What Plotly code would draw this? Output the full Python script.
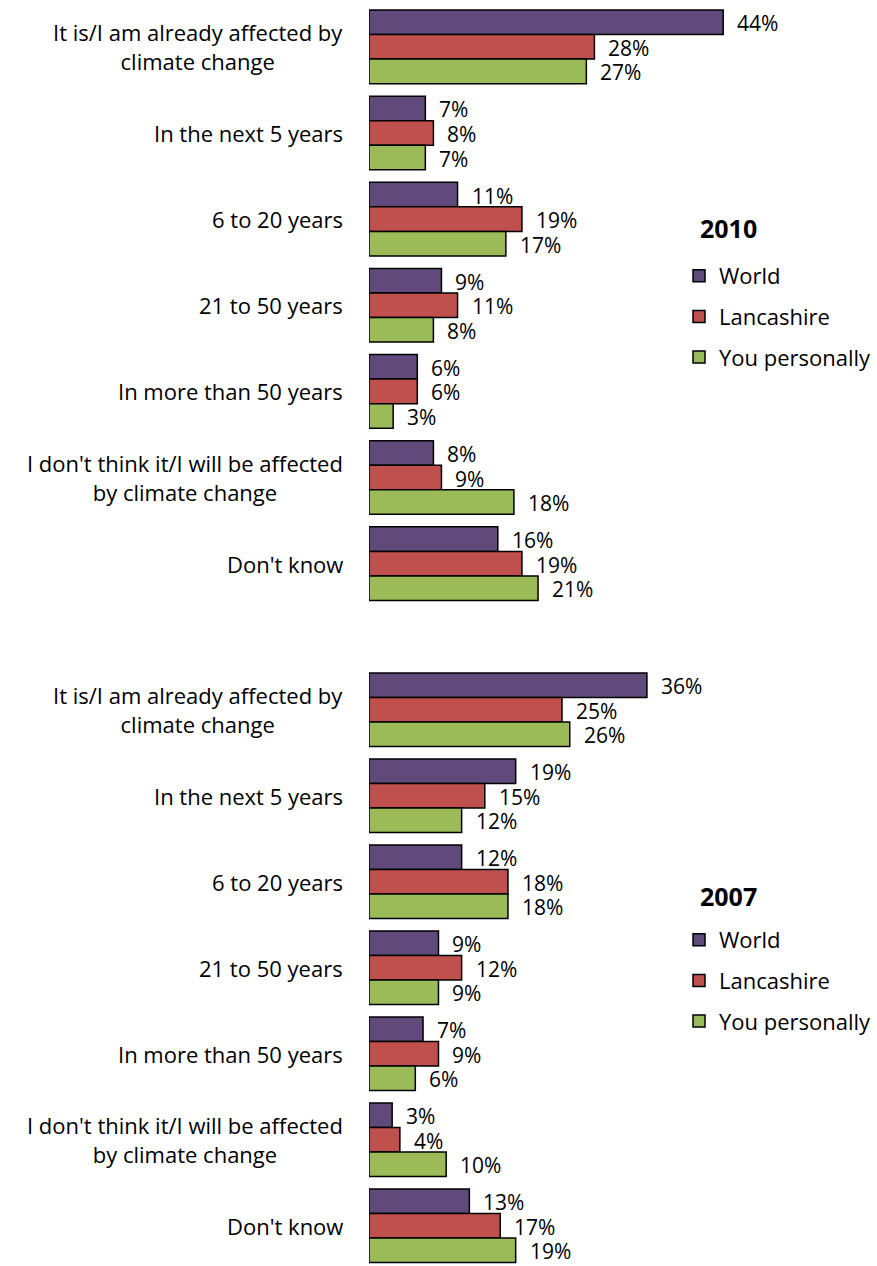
import plotly.graph_objects as go

# Answer categories (shared by both survey years)
categories = [
    "It is/I am already affected by<br>climate change",
    "In the next 5 years",
    "6 to 20 years",
    "21 to 50 years",
    "In more than 50 years",
    "I don't think it/I will be affected<br>by climate change",
    "Don't know",
]
series_names = ["World", "Lancashire", "You personally"]
series_colors = ["#604A7B", "#C0504D", "#9BBB59"]

# 2010 survey (%)
world_2010 = [44, 7, 11, 9, 6, 8, 16]
lancashire_2010 = [28, 8, 19, 11, 6, 9, 19]
personal_2010 = [27, 7, 17, 8, 3, 18, 21]

# 2007 survey (%)
world_2007 = [36, 19, 12, 9, 7, 3, 13]
lancashire_2007 = [25, 15, 18, 12, 9, 4, 17]
personal_2007 = [26, 12, 18, 9, 6, 10, 19]

FONT = "Open Sans"
FS = 22          # category labels and legend
FS_VALUE = 21    # percentage labels next to the bars
W, H = 877, 1266
BARGAP = 0.145
PLOT_LEFT = 369

panels = [
    # year, series, x axis, y axis, legend, legend top (px), title centre (px)
    ("2010", [world_2010, lancashire_2010, personal_2010], "x", "y", "legend", 255, 228),
    ("2007", [world_2007, lancashire_2007, personal_2007], "x2", "y2", "legend2", 919, 896),
]

fig = go.Figure()
annotations = []
positions = list(range(len(categories)))
bar_w = (1 - BARGAP) / 3

for year, series, xa, ya, lg, lg_top, title_y in panels:
    for k, (name, vals, col) in enumerate(zip(series_names, series, series_colors)):
        fig.add_trace(go.Bar(
            x=vals, y=positions, orientation="h", name=name,
            marker=dict(color=col, line=dict(color="black", width=1.5)),
            xaxis=xa, yaxis=ya, legend=lg, legendgroup=f"{year}-{name}",
            hoverinfo="skip",
        ))
        for i, v in enumerate(vals):
            annotations.append(dict(
                x=v, y=i + (k - 1) * bar_w, xref=xa, yref=ya,
                text=f"{v}%", showarrow=False, xanchor="left", yanchor="middle",
                xshift=12, yshift=-1, font=dict(family=FONT, size=FS_VALUE, color="black"),
            ))
    for i, cat in enumerate(categories):
        annotations.append(dict(
            x=345 / W, y=i, xref="paper", yref=ya, text=cat, showarrow=False,
            xanchor="right", yanchor="middle", align="center",
            font=dict(family=FONT, size=FS, color="black"),
        ))
    # year heading above each legend
    annotations.append(dict(
        x=698 / W, y=1 - title_y / H, xref="paper", yref="paper",
        text=f"<b>{year}</b>", showarrow=False, xanchor="left", yanchor="middle",
        font=dict(family=FONT, size=25, color="black"),
    ))
    fig.update_layout({lg: dict(
        x=679 / W, xanchor="left", y=1 - lg_top / H, yanchor="top",
        font=dict(family=FONT, size=FS, color="black"),
        tracegroupgap=9, bgcolor="rgba(0,0,0,0)", itemwidth=30, itemclick=False,
    )})

axis_x = dict(domain=[PLOT_LEFT / W, 1], showgrid=False, zeroline=False,
              showticklabels=False, showline=False, ticks="", fixedrange=True)
axis_y = dict(showgrid=False, zeroline=False, showticklabels=False,
              showline=False, ticks="", fixedrange=True)

fig.update_layout(
    width=W, height=H, margin=dict(l=0, r=0, t=0, b=0),
    paper_bgcolor="white", plot_bgcolor="white",
    barmode="group", bargap=BARGAP, bargroupgap=0,
    font=dict(family=FONT, size=FS, color="black"),
    xaxis=dict(axis_x, range=[0, (W - PLOT_LEFT) / 8.05], anchor="y"),
    yaxis=dict(axis_y, domain=[1 - 606.75 / H, 1 - 3.75 / H], range=[6.5, -0.5], anchor="x"),
    xaxis2=dict(axis_x, range=[0, (W - PLOT_LEFT) / 7.72], anchor="y2"),
    yaxis2=dict(axis_y, domain=[0, 1 - 666.75 / H], range=[6.468, -0.5], anchor="x2"),
    annotations=annotations,
    showlegend=True,
)

fig.write_html("out.html")
